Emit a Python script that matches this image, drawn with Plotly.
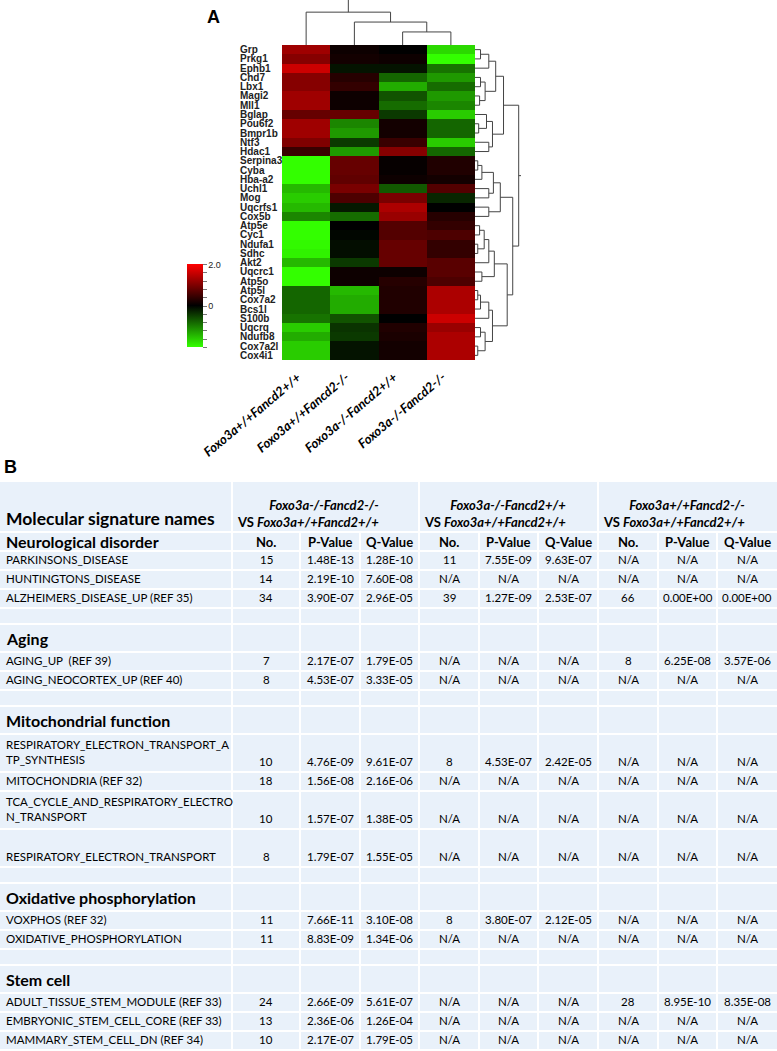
import plotly.graph_objects as go

W, H = 777, 1051

# ---------------- data: heatmap (panel A) ----------------
genes = ["Grp", "Prkg1", "Ephb1", "Chd7", "Lbx1", "Magi2", "Mll1", "Bglap", "Pou6f2",
         "Bmpr1b", "Ntf3", "Hdac1", "Serpina3", "Cyba", "Hba-a2", "Uchl1", "Mog",
         "Uqcrfs1", "Cox5b", "Atp5e", "Cyc1", "Ndufa1", "Sdhc", "Akt2", "Uqcrc1",
         "Atp5o", "Atp5l", "Cox7a2", "Bcs1l", "S100b", "Uqcrq", "Ndufb8", "Cox7a2l", "Cox4i1"]
samples = ["Foxo3a+/+Fancd2+/+", "Foxo3a+/+Fancd2-/-", "Foxo3a-/-Fancd2+/+", "Foxo3a-/-Fancd2-/-"]

expr_wt_wt = [1.25, 1.05, 1.6, 1.05, 1.05, 1.25, 1.25, 0.8, 1.25, 1.25, 1.0, 0.45, -2, -2, -2,
              -1.45, -1.6, -1.45, -1.05, -2, -2, -1.95, -1.9, -1.45, -2, -2, -0.8, -0.8, -0.8,
              -0.9, -1.6, -1.35, -1.6, -1.6]
expr_wt_ko = [0.1, 0.15, -0.15, 0.3, 0.4, 0.1, 0.1, 0.8, -1.05, -1.2, -0.45, -1.2, 0.8, 0.8, 0.75,
              0.95, 0.6, -0.2, -0.85, 0, -0.05, -0.1, -0.1, -0.45, 0.1, 0.1, -1.45, -1.35, -1.35,
              -0.65, -0.4, -0.45, -0.15, -0.15]
expr_ko_wt = [0, 0.1, -0.15, -0.8, -1.35, -0.65, -0.85, -0.45, 0.15, 0.15, 0.45, 1.05, 0.05, 0.05,
              0.1, -0.7, 0.95, 1.35, 1.2, 0.65, 0.65, 0.8, 0.8, 0.8, 0.1, 0.3, 0.25, 0.25, 0.25, 0,
              0.25, 0.2, 0.15, 0.15]
expr_ko_ko = [-1.7, -2, -0.9, -1.2, -0.85, -1.2, -1.05, -1.6, -0.8, -0.8, -1.6, -0.8, 0.25, 0.25,
              0.15, 0.65, -0.3, 0, 0.3, 0.4, 0.6, 0.4, 0.4, 0.7, 0.7, 0.6, 1.35, 1.35, 1.35, 1.6,
              1.2, 1.35, 1.35, 1.35]

# dendrogram linkages: (child a, child b, merge height); ids >= n are earlier merges
col_links = [(2, 3, 0.29), (1, 4, 0.51), (0, 5, 0.73)]
row_links = [(0, 1, 0.12), (34, 2, 0.3), (3, 4, 0.12), (5, 6, 0.1), (36, 37, 0.22),
             (35, 38, 0.45), (8, 9, 0.08), (7, 40, 0.25), (10, 11, 0.3), (41, 42, 0.38),
             (39, 43, 0.62), (12, 13, 0.06), (45, 14, 0.15), (15, 16, 0.3), (46, 47, 0.4),
             (17, 18, 0.3), (48, 49, 0.55), (19, 20, 0.1), (21, 22, 0.06), (51, 52, 0.2),
             (53, 23, 0.3), (24, 25, 0.15), (54, 55, 0.42), (26, 27, 0.06), (57, 28, 0.12),
             (58, 29, 0.3), (30, 31, 0.12), (32, 33, 0.06), (60, 61, 0.22), (59, 62, 0.38),
             (56, 63, 0.7), (50, 64, 0.82), (44, 65, 0.95)]

# ---------------- data: table (panel B) ----------------
group_first = ["Foxo3a-/-Fancd2-/-", "Foxo3a-/-Fancd2+/+", "Foxo3a+/+Fancd2-/-"]
group_ref = "Foxo3a+/+Fancd2+/+"
stat_names = ["No.", "P-Value", "Q-Value"]
section_names = ["Neurological disorder", "Aging", "Mitochondrial function",
                 "Oxidative phosphorylation", "Stem cell"]
section_sizes = [3, 2, 4, 2, 3]
signatures = ["PARKINSONS_DISEASE", "HUNTINGTONS_DISEASE", "ALZHEIMERS_DISEASE_UP (REF 35)",
              "AGING_UP  (REF 39)", "AGING_NEOCORTEX_UP (REF 40)",
              "RESPIRATORY_ELECTRON_TRANSPORT_A<br>TP_SYNTHESIS", "MITOCHONDRIA (REF 32)",
              "TCA_CYCLE_AND_RESPIRATORY_ELECTRO<br>N_TRANSPORT", "RESPIRATORY_ELECTRON_TRANSPORT",
              "VOXPHOS (REF 32)", "OXIDATIVE_PHOSPHORYLATION",
              "ADULT_TISSUE_STEM_MODULE (REF 33)", "EMBRYONIC_STEM_CELL_CORE (REF 33)",
              "MAMMARY_STEM_CELL_DN (REF 34)"]
NA = "N/A"
no_1 = ["15", "14", "34", "7", "8", "10", "18", "10", "8", "11", "11", "24", "13", "10"]
p_1 = ["1.48E-13", "2.19E-10", "3.90E-07", "2.17E-07", "4.53E-07", "4.76E-09", "1.56E-08",
       "1.57E-07", "1.79E-07", "7.66E-11", "8.83E-09", "2.66E-09", "2.36E-06", "2.17E-07"]
q_1 = ["1.28E-10", "7.60E-08", "2.96E-05", "1.79E-05", "3.33E-05", "9.61E-07", "2.16E-06",
       "1.38E-05", "1.55E-05", "3.10E-08", "1.34E-06", "5.61E-07", "1.26E-04", "1.79E-05"]
no_2 = ["11", NA, "39", NA, NA, "8", NA, NA, NA, "8", NA, NA, NA, NA]
p_2 = ["7.55E-09", NA, "1.27E-09", NA, NA, "4.53E-07", NA, NA, NA, "3.80E-07", NA, NA, NA, NA]
q_2 = ["9.63E-07", NA, "2.53E-07", NA, NA, "2.42E-05", NA, NA, NA, "2.12E-05", NA, NA, NA, NA]
no_3 = [NA, NA, "66", "8", NA, NA, NA, NA, NA, NA, NA, "28", NA, NA]
p_3 = [NA, NA, "0.00E+00", "6.25E-08", NA, NA, NA, NA, NA, NA, NA, "8.95E-10", NA, NA]
q_3 = [NA, NA, "0.00E+00", "3.57E-06", NA, NA, NA, NA, NA, NA, NA, "8.35E-08", NA, NA]

# ---------------- layout constants ----------------
HM_L, HM_R, HM_T, HM_B = 282, 475, 45, 360
DEN_R = 521
TB_TOP = 482
HEADER_H = 50
FIRST_SEC_H = 19
SEC_H = 28
ROW_H = 19
EMPTY_H = 16
ROW_SLOTS = {8: 2}          # signature rows drawn with a double-height cell
COL_X = [0, 232, 300, 360, 419, 479, 538, 598, 658, 717, 777]
TB_BG = "#E9F1FA"
FONT_T = "Lato, 'Open Sans', sans-serif"


def px(x):
    return x / W


def py(y):
    return 1 - y / H


def dendro_paths(n, links):
    pos = {i: float(i) for i in range(n)}
    hgt = {i: 0.0 for i in range(n)}
    a_s, h_s = [], []
    for k, (a, b, h) in enumerate(links):
        a_s += [pos[a], pos[a], pos[b], pos[b], None]
        h_s += [hgt[a], h, h, hgt[b], None]
        pos[n + k] = (pos[a] + pos[b]) / 2
        hgt[n + k] = h
    r = n + len(links) - 1
    a_s += [pos[r], pos[r], None]
    h_s += [hgt[r], 1.0, None]
    return a_s, h_s


fig = go.Figure()

z = [list(r) for r in zip(expr_wt_wt, expr_wt_ko, expr_ko_wt, expr_ko_ko)]
tickv = [-2, -1.6, -1.2, -0.8, -0.4, 0, 0.4, 0.8, 1.2, 1.6, 2]
tickt = ["" for _ in tickv]
tickt[5] = "0"
tickt[-1] = "2.0"
fig.add_trace(go.Heatmap(
    z=z, x=list(range(len(samples))), y=list(range(len(genes))),
    zmin=-2, zmax=2,
    colorscale=[[0, "#33FF00"], [0.5, "#000000"], [1, "#FF0000"]],
    hoverinfo="skip",
    colorbar=dict(x=px(187), xanchor="left", xpad=0, y=py(306), yanchor="middle", ypad=0,
                  len=83, lenmode="pixels", thickness=16, thicknessmode="pixels",
                  outlinewidth=0, tickvals=tickv, ticktext=tickt, ticks="outside",
                  ticklen=4, tickcolor="#777", tickwidth=1,
                  tickfont=dict(size=9, color="#222", family="Liberation Sans")),
))

cx, ch = dendro_paths(len(samples), col_links)
fig.add_trace(go.Scatter(x=cx, y=ch, mode="lines", line=dict(color="#444", width=1),
                         xaxis="x2", yaxis="y2", hoverinfo="skip", showlegend=False))
ry, rh = dendro_paths(len(genes), row_links)
fig.add_trace(go.Scatter(x=rh, y=ry, mode="lines", line=dict(color="#444", width=1),
                         xaxis="x3", yaxis="y3", hoverinfo="skip", showlegend=False))

ax_off = dict(visible=False, showgrid=False, zeroline=False, fixedrange=True)
fig.update_layout(
    width=W, height=H, margin=dict(l=0, r=0, t=0, b=0),
    paper_bgcolor="white", plot_bgcolor="rgba(0,0,0,0)", showlegend=False,
    xaxis=dict(domain=[px(HM_L), px(HM_R)], range=[-0.5, 3.5], anchor="y", **ax_off),
    yaxis=dict(domain=[py(HM_B), py(HM_T)], range=[len(genes) - 0.5, -0.5], anchor="x", **ax_off),
    xaxis2=dict(domain=[px(HM_L), px(HM_R)], range=[-0.5, 3.5], anchor="y2", **ax_off),
    yaxis2=dict(domain=[py(HM_T), 1], range=[0, 1], anchor="x2", **ax_off),
    xaxis3=dict(domain=[px(HM_R), px(DEN_R)], range=[0, 1], anchor="y3", **ax_off),
    yaxis3=dict(domain=[py(HM_B), py(HM_T)], range=[len(genes) - 0.5, -0.5], anchor="x3", **ax_off),
)

ann = []
# panel letters
ann.append(dict(text="<b>A</b>", x=px(213), y=py(17), xref="paper", yref="paper",
                xanchor="center", yanchor="middle",
                showarrow=False, font=dict(size=18, family="Liberation Sans", color="black")))
ann.append(dict(text="<b>B</b>", x=px(2), y=py(467), xref="paper", yref="paper",
                xanchor="left", yanchor="middle",
                showarrow=False, font=dict(size=18, family="Liberation Sans", color="black")))
# gene labels
for i, g in enumerate(genes):
    ann.append(dict(text="<b>" + g + "</b>", x=px(238), y=i, xref="paper", yref="y",
                    xanchor="left", yanchor="middle", showarrow=False,
                    font=dict(size=10, family="Liberation Sans", color="#222")))
# sample labels
for j, s in enumerate(samples):
    ann.append(dict(text="<b><i>" + s + "</i></b>", x=j, y=py(366), xref="x", yref="paper",
                    xanchor="right", yanchor="top", xshift=1, textangle=-40, showarrow=False,
                    font=dict(size=13, family=FONT_T, color="black")))

# ---------------- table ----------------
shapes = []
shapes.append(dict(type="rect", xref="paper", yref="paper", x0=0, x1=1, y0=0, y1=py(TB_TOP),
                   fillcolor=TB_BG, line=dict(width=0), layer="below"))


def hline(y):
    shapes.append(dict(type="line", xref="paper", yref="paper", x0=0, x1=1, y0=py(y), y1=py(y),
                       line=dict(color="white", width=2)))


def vline(x, y0, y1):
    shapes.append(dict(type="line", xref="paper", yref="paper", x0=px(x), x1=px(x),
                       y0=py(y0), y1=py(y1), line=dict(color="white", width=2)))


def cell_text(txt, x, y, size=11.5, bold=False, anchor="center"):
    t = "<b>" + txt + "</b>" if bold else txt
    ann.append(dict(text=t, x=px(x), y=py(y), xref="paper", yref="paper", xanchor=anchor,
                    yanchor="middle", showarrow=False, align="left",
                    font=dict(size=size, family=FONT_T, color="black")))


# header row
y = TB_TOP
hb = y + HEADER_H
for gx in (COL_X[1], COL_X[4], COL_X[7]):
    vline(gx, y, hb)
cell_text("Molecular signature names", 4, y + 36, size=17.5, bold=True, anchor="left")
for g, gf in enumerate(group_first):
    gl = COL_X[1 + 3 * g]
    ann.append(dict(text="<b><i>" + gf + "</i></b><br><b>VS <i>" + group_ref + "</i></b>",
                    x=px(gl + 3), y=py(y + 31), xref="paper", yref="paper", xanchor="left",
                    yanchor="middle", align="right", showarrow=False,
                    font=dict(size=13, family=FONT_T, color="black")))
y = hb
hline(y)

sig = 0
for s, (sname, ssize) in enumerate(zip(section_names, section_sizes)):
    h = FIRST_SEC_H if s == 0 else SEC_H
    top = y
    y += h
    cell_text(sname, 4, (top + y) / 2, size=16, bold=True, anchor="left")
    if s == 0:
        for j in range(9):
            cell_text(stat_names[j % 3], (COL_X[j + 1] + COL_X[j + 2]) / 2, (top + y) / 2,
                      size=13, bold=True)
    hline(y)
    for k in range(ssize):
        name = signatures[sig]
        nlines = name.count("<br>") + 1
        slots = max(nlines, ROW_SLOTS.get(sig, 1))
        y += ROW_H * slots
        cell_text(name, 4, y - ROW_H * nlines / 2 - 1, anchor="left")
        vals = [no_1[sig], p_1[sig], q_1[sig], no_2[sig], p_2[sig], q_2[sig],
                no_3[sig], p_3[sig], q_3[sig]]
        for j, v in enumerate(vals):
            cell_text(v, (COL_X[j + 1] + COL_X[j + 2]) / 2, y - ROW_H / 2 - 1)
        hline(y)
        sig += 1
    if s < len(section_names) - 1:
        y += EMPTY_H
        hline(y)

for x in COL_X[1:-1]:
    vline(x, hb, H)

fig.update_layout(annotations=ann, shapes=shapes)
fig.write_html("out.html", config={"displayModeBar": False},
               post_script="document.body.style.margin='0';document.body.style.overflow='hidden';")
